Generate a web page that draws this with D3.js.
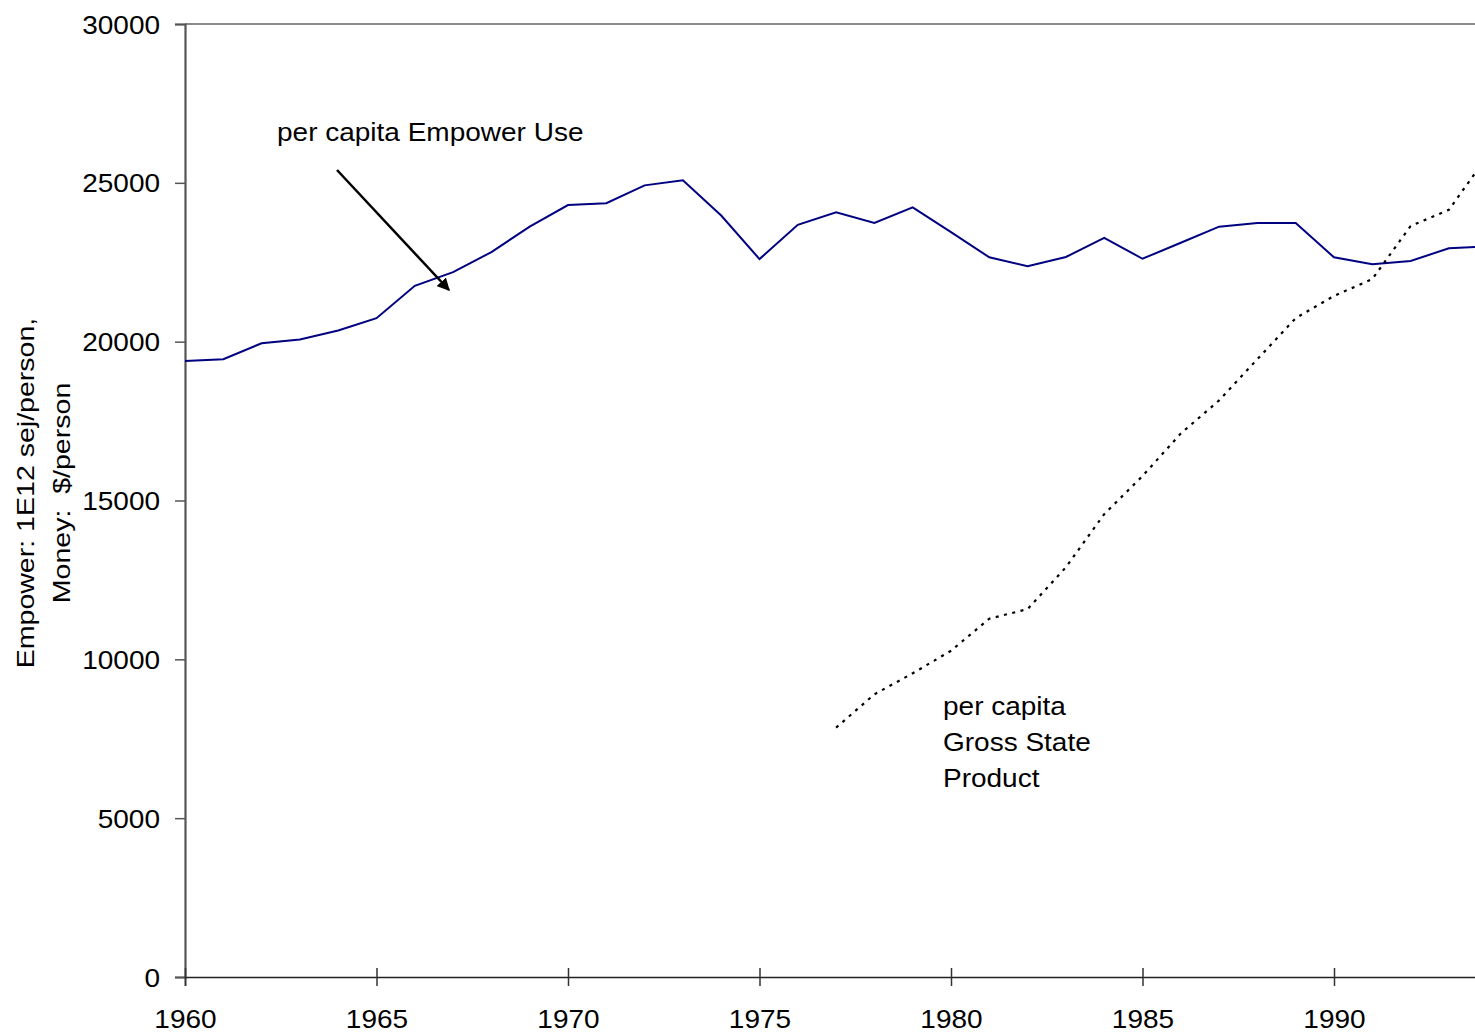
<!DOCTYPE html>
<html>
<head>
<meta charset="utf-8">
<script src="https://cdn.jsdelivr.net/npm/d3@7/dist/d3.min.js"></script>
<style>
  html, body { margin: 0; padding: 0; background: #fff; }
  svg { display: block; }
  text { font-family: "Liberation Sans", Arial, sans-serif; fill: #000; }
</style>
</head>
<body>
<svg id="chart" width="1475" height="1035"></svg>
<script>
// Per capita empower use, 1960-1994 (1E12 sej/person)
const empowerYears = d3.range(1960, 1995);
const empowerValues = [19390, 19450, 19950, 20070, 20350, 20740, 21760, 22190, 22820, 23620,
                       24300, 24360, 24920, 25080, 23970, 22600, 23680, 24070, 23740, 24230,
                       23450, 22655, 22375, 22665, 23270, 22610, 23115, 23620, 23735, 23735,
                       22655, 22435, 22540, 22940, 23000];

// Per capita gross state product, 1977-1994 ($/person)
const gspYears = d3.range(1977, 1995);
const gspValues = [7850, 8900, 9560, 10270, 11280, 11580, 12900, 14570, 15770, 17110,
                   18150, 19450, 20740, 21440, 21970, 23640, 24150, 25840];

const xTicks = [1960, 1965, 1970, 1975, 1980, 1985, 1990];
const yTicks = [0, 5000, 10000, 15000, 20000, 25000, 30000];

const yTitleLines = ["Empower: 1E12 sej/person,", "Money:  $/person"];
const empowerLabel = "per capita Empower Use";
const gspLabel = ["per capita", "Gross State", "Product"];

const svg = d3.select("#chart");
const FONT = 25, SX = 1.12;   // glyphs are drawn slightly wide

const x = d3.scaleLinear().domain([1960, 1994]).range([185, 1487.2]);
const y = d3.scaleLinear().domain([0, 30000]).range([977, 24]);

// plot frame (top edge, visible part)
svg.append("line")
  .attr("x1", x(1960)).attr("x2", x(1994))
  .attr("y1", y(30000)).attr("y2", y(30000))
  .attr("stroke", "#8a8a8a").attr("stroke-width", 2);

// y axis
const yAxis = svg.append("g")
  .attr("transform", `translate(${x(1960)},0)`)
  .call(d3.axisLeft(y).tickValues(yTicks).tickSize(10).tickPadding(0).tickFormat(d3.format("d")));
yAxis.select(".domain").attr("stroke", "#555").attr("stroke-width", 2.2);
yAxis.selectAll(".tick line").attr("stroke", "#555").attr("stroke-width", 1.5).attr("x1", 0);
yAxis.selectAll(".tick text")
  .attr("font-size", FONT).attr("font-family", '"Liberation Sans", Arial, sans-serif')
  .attr("fill", "#000")
  .attr("x", -25 / SX).attr("dy", null).attr("y", 9)
  .attr("transform", `scale(${SX},1)`);

// x axis
const xAxis = svg.append("g")
  .attr("transform", `translate(0,${y(0)})`)
  .call(d3.axisBottom(x).tickValues(xTicks).tickSize(9).tickPadding(0).tickFormat(d3.format("d")));
xAxis.select(".domain").attr("stroke", "#222").attr("stroke-width", 1.6);
xAxis.selectAll(".tick line").attr("stroke", "#333").attr("stroke-width", 1.5).attr("y1", -9);
xAxis.selectAll(".tick text")
  .attr("font-size", FONT).attr("font-family", '"Liberation Sans", Arial, sans-serif')
  .attr("fill", "#000")
  .attr("y", 51).attr("dy", null)
  .attr("transform", `scale(${SX},1)`);

// y axis title (two rotated lines)
const title = svg.append("g").attr("transform", "translate(0,493) rotate(-90)");
yTitleLines.forEach((t, i) => {
  title.append("text")
    .attr("x", 0).attr("y", 34 + i * 36)
    .attr("text-anchor", "middle")
    .attr("font-size", 24)
    .attr("transform", "scale(1.19,1)")
    .attr("xml:space", "preserve")
    .style("white-space", "pre")
    .text(t);
});

// series lines
const empowerLine = d3.line().x((d, i) => x(empowerYears[i])).y(d => y(d));
svg.append("path")
  .datum(empowerValues)
  .attr("d", empowerLine)
  .attr("fill", "none").attr("stroke", "#000080").attr("stroke-width", 2);

const gspLine = d3.line().x((d, i) => x(gspYears[i])).y(d => y(d));
svg.append("path")
  .datum(gspValues)
  .attr("d", gspLine)
  .attr("fill", "none").attr("stroke", "#000").attr("stroke-width", 2.2)
  .attr("stroke-dasharray", "3,5.5");

// annotation arrow
const defs = svg.append("defs");
defs.append("marker")
  .attr("id", "arrowhead").attr("viewBox", "0 0 10 10")
  .attr("refX", 9).attr("refY", 5)
  .attr("markerWidth", 5).attr("markerHeight", 5)
  .attr("markerUnits", "strokeWidth").attr("orient", "auto")
  .append("path").attr("d", "M0,0 L10,5 L0,10 z").attr("fill", "#000");

svg.append("line")
  .attr("x1", 337).attr("y1", 170).attr("x2", 449).attr("y2", 290)
  .attr("stroke", "#000").attr("stroke-width", 2.5)
  .attr("marker-end", "url(#arrowhead)");

// annotation labels
svg.append("text")
  .attr("x", 277 / SX).attr("y", 141)
  .attr("font-size", FONT)
  .attr("transform", `scale(${SX},1)`)
  .text(empowerLabel);

gspLabel.forEach((t, i) => {
  svg.append("text")
    .attr("x", 943 / SX).attr("y", 715 + i * 36)
    .attr("font-size", FONT)
    .attr("transform", `scale(${SX},1)`)
    .text(t);
});
</script>
</body>
</html>
